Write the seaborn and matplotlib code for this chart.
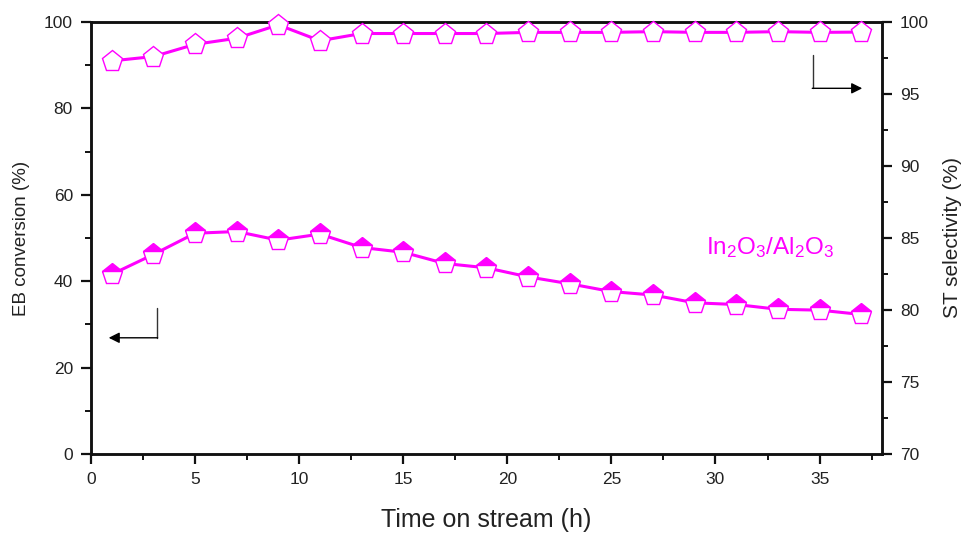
import numpy as np
import pandas as pd
import matplotlib
matplotlib.use("Agg")
import matplotlib.pyplot as plt
from matplotlib.ticker import MultipleLocator
import seaborn as sns

# Time on stream (h)
time_h = [1, 3, 5, 7, 9, 11, 13, 15, 17, 19, 21, 23, 25, 27, 29, 31, 33, 35, 37]
# Ethylbenzene conversion (%)
eb_conversion = [41.6, 46.2, 51.1, 51.5, 49.5, 50.9, 47.8, 46.7, 44.1, 43.1,
                 41.0, 39.4, 37.6, 36.8, 35.0, 34.6, 33.5, 33.3, 32.3]
# Styrene selectivity (%)
st_selectivity = [97.3, 97.6, 98.45, 98.87, 99.8, 98.7, 99.2, 99.2, 99.2, 99.2,
                  99.28, 99.28, 99.28, 99.33, 99.28, 99.28, 99.33, 99.28, 99.3]

df = pd.DataFrame({"time": time_h, "conv": eb_conversion, "sel": st_selectivity})

sns.set_theme(style="ticks")
plt.rcParams["font.family"] = ["Liberation Sans", "DejaVu Sans"]
plt.rcParams["mathtext.fontset"] = "custom"
plt.rcParams["mathtext.rm"] = "Liberation Sans"
plt.rcParams["mathtext.it"] = "Liberation Sans"
plt.rcParams["mathtext.default"] = "regular"

MAG = "#ff00ff"
TXT = "#222222"

fig = plt.figure(figsize=(9.7, 5.35), dpi=100)
ax = fig.add_axes([91 / 970, 1 - 454 / 535, (882 - 91) / 970, (454 - 22) / 535])
ax2 = ax.twinx()

sns.lineplot(data=df, x="time", y="conv", ax=ax, color=MAG, linewidth=2.2,
             marker="p", markersize=15.5, fillstyle="top",
             markerfacecolor=MAG, markerfacecoloralt="white",
             markeredgecolor=MAG, markeredgewidth=1.0, zorder=3)
sns.lineplot(data=df, x="time", y="sel", ax=ax2, color=MAG, linewidth=2.2,
             marker="p", markersize=15.5, markerfacecolor="white",
             markeredgecolor=MAG, markeredgewidth=1.0, zorder=3, clip_on=False)

ax.set_xlim(0, 38)
ax.set_ylim(0, 100)
ax2.set_ylim(70, 100)

ax.xaxis.set_major_locator(MultipleLocator(5))
ax.xaxis.set_minor_locator(MultipleLocator(2.5))
ax.yaxis.set_major_locator(MultipleLocator(20))
ax.yaxis.set_minor_locator(MultipleLocator(10))
ax2.yaxis.set_major_locator(MultipleLocator(5))
ax2.yaxis.set_minor_locator(MultipleLocator(2.5))

for a in (ax, ax2):
    for s in a.spines.values():
        s.set_linewidth(1.8)
        s.set_color("#111111")
    a.tick_params(which="major", length=7, width=1.6, color="#111111",
                  labelsize=12.5, labelcolor=TXT, pad=6)
    a.tick_params(which="minor", length=4, width=1.4, color="#111111")
ax.tick_params(axis="x", which="both", top=False)

ax.set_xlabel("Time on stream (h)", fontsize=18, color=TXT, labelpad=15)
ax.set_ylabel("EB conversion (%)", fontsize=13.5, color=TXT, labelpad=10)
ax2.set_ylabel("ST selectivity (%)", fontsize=15, color=TXT, labelpad=10)

ax.text(32.6, 47.7, r"In$_2$O$_3$/Al$_2$O$_3$", color=MAG, fontsize=17.5,
        ha="center", va="center")

# Axis-indicating arrows
ax.plot([3.15, 3.15], [33.8, 26.9], color="#333333", lw=1.0)
ax.annotate("", xy=(0.85, 26.9), xytext=(3.2, 26.9),
            arrowprops=dict(arrowstyle="-|>", color="black", lw=1.0,
                            mutation_scale=16, shrinkA=0, shrinkB=0))
ax.plot([34.7, 34.7], [92.4, 84.65], color="#333333", lw=1.0)
ax.annotate("", xy=(37.05, 84.65), xytext=(34.65, 84.65),
            arrowprops=dict(arrowstyle="-|>", color="black", lw=1.0,
                            mutation_scale=16, shrinkA=0, shrinkB=0))

fig.savefig("out.png", dpi=100)
